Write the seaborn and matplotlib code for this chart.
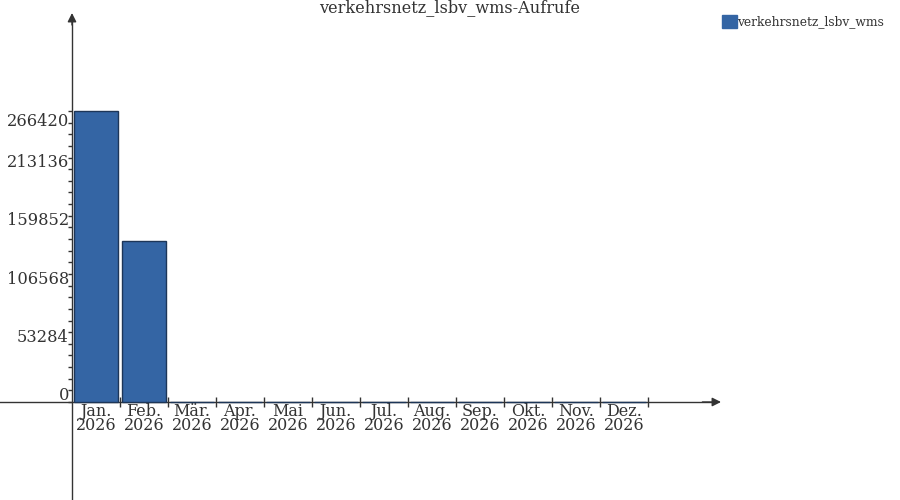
import numpy as np
import pandas as pd
import matplotlib
matplotlib.use("Agg")
import matplotlib.pyplot as plt
import seaborn as sns
from matplotlib.patches import Patch
from matplotlib.ticker import FixedLocator

# ---- data ----
months = ["Jan.\n2026", "Feb.\n2026", "Mär.\n2026", "Apr.\n2026", "Mai\n2026", "Jun.\n2026",
          "Jul.\n2026", "Aug.\n2026", "Sep.\n2026", "Okt.\n2026", "Nov.\n2026", "Dez.\n2026"]
calls = [266420, 147400, 0, 0, 0, 0, 0, 0, 0, 0, 0, 0]
series_name = "verkehrsnetz_lsbv_wms"
title = "verkehrsnetz_lsbv_wms-Aufrufe"
y_ticks = [0, 53284, 106568, 159852, 213136, 266420]

BAR = "#3465a4"
EDGE = "#1d3658"
TXT = "#333333"
AX = "#333333"

sns.set_theme(style="white")
plt.rcParams["font.family"] = ["DejaVu Serif"]

fig = plt.figure(figsize=(9, 5), dpi=100)
ax = fig.add_axes([0, 0, 1, 1])

df = pd.DataFrame({"month": months, "calls": calls})
sns.barplot(data=df, x="month", y="calls", color=BAR, edgecolor=EDGE, linewidth=1,
            width=0.9, saturation=1, ax=ax)

# pixel geometry of the reference: y-axis at x=72px, slot = 48px, zero at y=402px
slot = 48.0
x0 = -0.5 - 72 / slot
x1 = -0.5 + (900 - 72) / slot
per_px = y_ticks[-1] / 291.0
ylo = -(500 - 402) * per_px
yhi = 402 * per_px
ax.set_xlim(x0, x1)
ax.set_ylim(ylo, yhi)
ax.set_xlabel("")
ax.set_ylabel("")

for s in ["top", "right"]:
    ax.spines[s].set_visible(False)
x_end = -0.5 + (712 - 72) / slot
y_end = (402 - 20) * per_px
ax.spines["left"].set_position(("data", -0.5))
ax.spines["left"].set_bounds(ylo, y_end)
ax.spines["bottom"].set_position(("data", 0))
ax.spines["bottom"].set_bounds(x0, x_end)
for s in ["left", "bottom"]:
    ax.spines[s].set_color(AX)
    ax.spines[s].set_linewidth(1)
    ax.spines[s].set_zorder(0.5)

# arrow heads
ax.annotate("", xy=(-0.5 + (721 - 72) / slot, 0), xytext=(x_end - 0.2, 0),
            arrowprops=dict(arrowstyle="-|>", color=AX, lw=1, mutation_scale=13,
                            shrinkA=0, shrinkB=0))
ax.annotate("", xy=(-0.5, (402 - 13) * per_px), xytext=(-0.5, y_end - 5 * per_px),
            arrowprops=dict(arrowstyle="-|>", color=AX, lw=1, mutation_scale=13,
                            shrinkA=0, shrinkB=0))

# y ticks
ax.yaxis.set_major_locator(FixedLocator(y_ticks))
ax.yaxis.set_minor_locator(FixedLocator(np.linspace(0, y_ticks[-1], 26)))
ax.tick_params(axis="y", which="both", left=True, length=3, width=1, color=AX,
               direction="out", labelleft=False)
for i, v in enumerate(y_ticks):
    top = i == len(y_ticks) - 1
    ax.annotate(str(v), xy=(-0.5, v), xytext=(-3, -2 if top else 2),
                textcoords="offset pixels", ha="right",
                va="top" if top else "baseline", fontsize=11.7, color=TXT)

# x ticks
ax.xaxis.set_major_locator(FixedLocator(np.arange(len(months))))
ax.set_xticklabels(months)
ax.xaxis.set_minor_locator(FixedLocator(np.arange(len(months)) + 0.5))
ax.tick_params(axis="x", which="major", bottom=True, length=0, pad=1,
               labelsize=11.5, labelcolor=TXT)
ax.tick_params(axis="x", which="minor", bottom=True, length=7, width=1,
               direction="inout", color=AX)
for lbl in ax.get_xticklabels():
    lbl.set_linespacing(0.76)

fig.text(0.5, 1 - 8 / 500, title, ha="center", va="center", fontsize=11.6, color=TXT)

leg = ax.legend(handles=[Patch(facecolor=BAR, edgecolor=BAR, label=series_name)],
                loc="upper left", bbox_to_anchor=(722 / 900, 1 - 15 / 500),
                bbox_transform=fig.transFigure, frameon=False, fontsize=8.8,
                handlelength=1.2, handleheight=1.2, handletextpad=0.0,
                borderpad=0, borderaxespad=0)
for t in leg.get_texts():
    t.set_color(TXT)

fig.savefig("out.png", dpi=100)
